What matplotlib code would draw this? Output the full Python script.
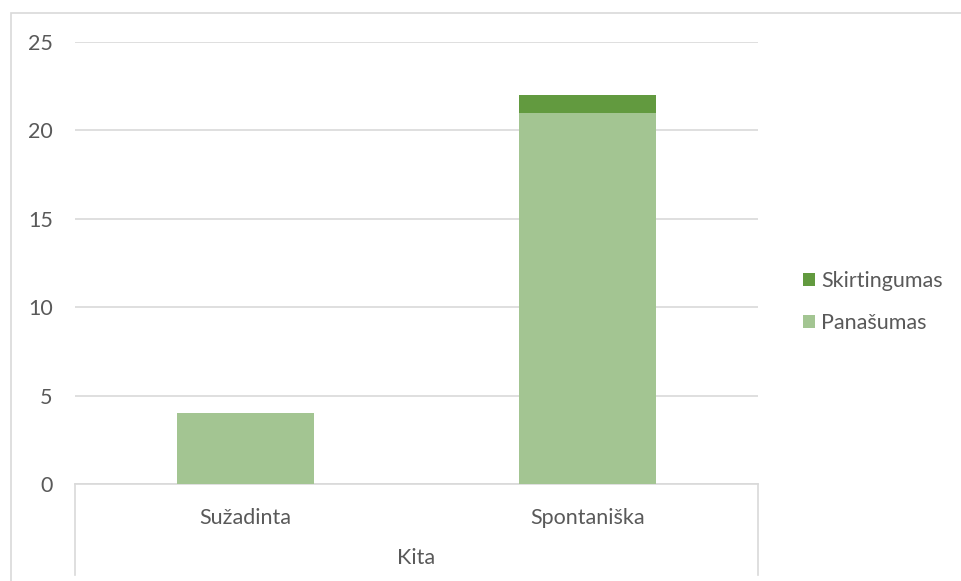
import matplotlib
matplotlib.use("Agg")
import matplotlib.pyplot as plt
from matplotlib.lines import Line2D
from matplotlib.patches import Rectangle

categories = ["Sužadinta", "Spontaniška"]
group_label = "Kita"
panasumas = [4, 21]
skirtingumas = [0, 1]
yticks = [0, 5, 10, 15, 20, 25]

c_pan = "#A3C592"
c_skir = "#629A3F"
txt = "#595959"
grid = "#D9D9D9"
FS = 15.5

plt.rcParams['font.family'] = ['Lato', 'DejaVu Sans']

W, H = 961, 581
fig = plt.figure(figsize=(W/100, H/100), dpi=100)

def fx(px): return px / W
def fy(py): return 1 - py / H

ax = fig.add_axes([fx(75), fy(484), fx(758) - fx(75), fy(42) - fy(484)])
x = range(len(categories))
ax.bar(x, panasumas, width=0.4, color=c_pan, label="Panašumas", zorder=3)
ax.bar(x, skirtingumas, width=0.4, bottom=panasumas, color=c_skir, label="Skirtingumas", zorder=3)
ax.set_xlim(-0.5, len(categories) - 0.5)
ax.set_ylim(0, 25)
ax.set_yticks(yticks)
ax.set_yticklabels([str(v) for v in yticks], color=txt, fontsize=FS)
ax.tick_params(axis='y', length=0, pad=16)
ax.set_xticks([])
for s in ["top", "right", "left"]:
    ax.spines[s].set_visible(False)
ax.spines["bottom"].set_color(grid)
ax.spines["bottom"].set_linewidth(1.2)
ax.yaxis.grid(True, color=grid, linewidth=1.2, zorder=0)
ax.set_axisbelow(True)

# category labels
for i, c in enumerate(categories):
    ax.text(i, -0.078, c, transform=ax.get_xaxis_transform(), ha='center', va='center',
            color=txt, fontsize=FS)
ax.text(0.5, -0.167, group_label, transform=ax.transAxes, ha='center', va='center',
        color=txt, fontsize=FS)

# multi-level axis vertical lines
for px in (75, 758):
    fig.add_artist(Line2D([fx(px), fx(px)], [fy(484), fy(575)], color=grid, linewidth=1.2))

# chart border
fig.add_artist(Rectangle((fx(11), fy(600)), fx(1000) - fx(11), fy(13) - fy(600),
                         fill=False, edgecolor=grid, linewidth=1.2))

# legend
h, l = ax.get_legend_handles_labels()
leg = fig.legend(h[::-1], l[::-1], loc='center left', bbox_to_anchor=(fx(792), fy(302)),
                 frameon=False, fontsize=FS, handlelength=0.55, handleheight=0.55,
                 handletextpad=0.3, labelspacing=1.0, labelcolor=txt, borderpad=0)

fig.savefig("out.png", dpi=100)
